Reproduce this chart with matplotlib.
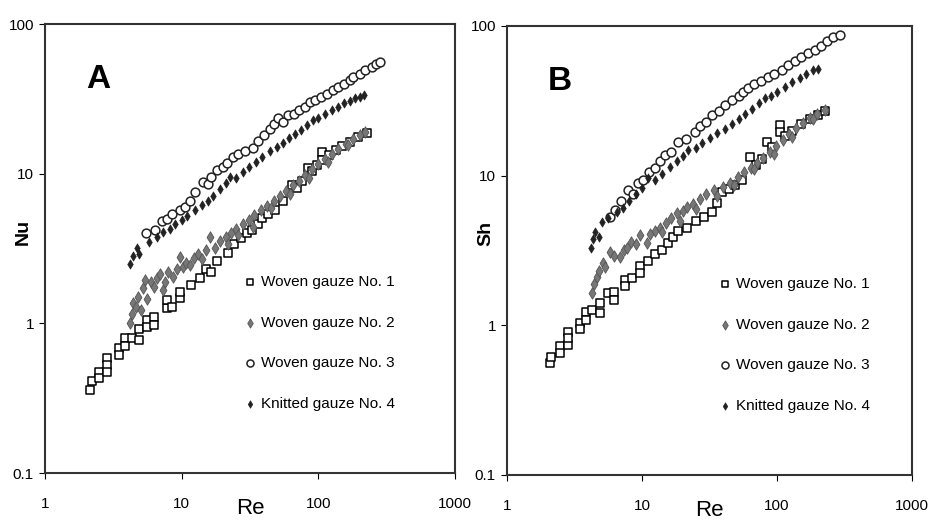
import matplotlib
matplotlib.use('Agg')
import matplotlib.pyplot as plt

plt.rcParams['font.family'] = ['Liberation Sans', 'DejaVu Sans']

labels = ['Woven gauze No. 1', 'Woven gauze No. 2', 'Woven gauze No. 3', 'Knitted gauze No. 4']

# Panel A: Nu vs Re
a1_re = [2.13, 2.2, 2.5, 2.5, 2.85, 2.85, 2.85, 3.5, 3.5, 3.85, 3.85, 4.3, 4.9, 4.9, 5.6, 5.6, 6.3, 6.3,
         7.8, 7.8, 8.5, 9.7, 9.7, 11.7, 13.6, 15, 16.5, 18, 21.8, 24, 27, 30, 32.7, 36, 38.7, 43, 48, 55,
         64, 70, 76, 84, 90, 98, 106, 106, 120, 135, 150, 170, 195, 225]
a1_nu = [0.36, 0.41, 0.47, 0.43, 0.59, 0.53, 0.47, 0.68, 0.61, 0.80, 0.71, 0.80, 0.92, 0.77, 1.05, 0.95, 1.1, 0.97,
         1.27, 1.43, 1.29, 1.47, 1.62, 1.80, 2.0, 2.3, 2.2, 2.6, 2.95, 3.4, 3.7, 4.0, 4.2, 4.6, 5.05, 5.4, 5.7, 6.6,
         8.4, 8.0, 8.9, 10.9, 10.5, 11.4, 13.9, 12.3, 13.3, 14.4, 15.3, 16.4, 17.6, 18.6]

a2_re = [4.2, 4.3, 4.4, 4.6, 4.8, 5.0, 5.2, 5.4, 5.6, 6.0, 6.3, 6.6, 6.9, 7.3, 7.6, 8.0, 8.7, 9.2, 9.7, 10.2,
         10.8, 11.5, 12.3, 13.2, 14, 15, 16, 17.5, 19, 21, 23, 25, 28, 31, 34, 38, 42, 47, 52, 58, 65, 72,
         80, 90, 100, 112, 125, 140, 158, 178, 200, 220,
         22, 26, 33, 45, 62, 85, 118, 165]
a2_nu = [1.0, 1.15, 1.37, 1.28, 1.5, 1.23, 1.73, 1.95, 1.45, 1.9, 1.75, 2.0, 2.15, 1.67, 1.9, 2.2, 2.05, 2.3, 2.77, 2.38,
         2.55, 2.45, 2.75, 2.9, 2.7, 3.1, 3.8, 3.2, 3.55, 3.8, 4.0, 4.3, 4.6, 4.9, 5.3, 5.7, 6.1, 6.6, 7.1, 7.7, 8.4, 9.0,
         9.8, 10.7, 11.6, 12.6, 13.6, 14.7, 15.9, 17.0, 18.0, 19.0,
         3.4, 3.9, 4.4, 5.9, 7.3, 9.4, 12.0, 15.6]

a3_re = [5.5, 6.4, 7.2, 7.8, 8.5, 9.7, 10.5, 11.5, 12.5, 14.3, 15.5, 16.5, 18, 20, 21.5, 23.7, 26, 29, 33, 36,
         40, 44, 47, 50.6, 55, 60, 66, 72, 80, 87, 95, 105, 115, 127, 140, 155, 170, 180, 200, 220, 245, 265, 282]
a3_nu = [4.0, 4.2, 4.8, 5.0, 5.4, 5.7, 6.0, 6.6, 7.5, 8.8, 8.5, 9.5, 10.6, 11.0, 11.8, 12.9, 13.5, 14.2, 14.8, 16.5,
         18, 20, 21.5, 23.5, 22, 24.6, 25, 26.5, 28, 30, 31, 32.5, 34, 36, 38, 40, 42, 44, 46, 49, 52, 54, 55.6]

a4_re = [4.2, 4.4, 4.7, 4.9, 5.8, 6.6, 7.3, 8.2, 9.0, 10, 11, 12.5, 14, 15.5, 17, 19, 21, 22.5, 25, 28, 31, 35,
         39, 44, 49.6, 55, 61, 68, 75, 83, 91, 100, 112, 125, 140, 155, 170, 185, 201, 215]
a4_nu = [2.5, 2.8, 3.2, 2.9, 3.5, 3.8, 4.1, 4.3, 4.6, 4.9, 5.2, 5.7, 6.2, 6.6, 7.1, 7.9, 8.6, 9.5, 9.4, 10.3, 11.1, 12.0,
         13.0, 14.1, 15.0, 16.0, 17.2, 18.4, 19.6, 21.0, 22.8, 23.5, 25, 26.5, 28, 29.5, 30.8, 31.8, 32.5, 33.5]

# Panel B: Sh vs Re
b1_re = [2.08, 2.1, 2.47, 2.47, 2.83, 2.83, 2.83, 3.47, 3.47, 3.84, 3.84, 4.26, 4.88, 4.88, 5.6, 6.2, 6.2, 7.5, 7.5,
         8.4, 9.6, 9.6, 11, 12.5, 14, 15.6, 17, 18.5, 21.6, 25, 29, 33, 36, 39, 44, 49, 55, 63, 70, 77, 84, 92,
         105, 105, 115, 130, 150, 175, 200, 225]
b1_sh = [0.56, 0.61, 0.73, 0.65, 0.90, 0.74, 0.82, 1.03, 0.94, 1.23, 1.09, 1.27, 1.41, 1.21, 1.64, 1.67, 1.47, 2.0, 1.83,
         2.07, 2.5, 2.25, 2.7, 3.0, 3.2, 3.55, 3.9, 4.3, 4.5, 5.0, 5.3, 5.7, 6.6, 7.8, 8.2, 8.7, 9.4, 13.3, 11.8, 12.9, 16.8, 15.5,
         21.8, 19.5, 18.5, 20.0, 22.0, 24.0, 25.5, 27]

b2_re = [4.26, 4.4, 4.6, 4.8, 5.1, 5.3, 5.8, 6.2, 6.9, 7.3, 7.7, 8.3, 9.0, 9.7, 10.9, 11.5, 12.5, 13.6, 15, 16.5,
         18.2, 20, 21.5, 23.9, 27, 30, 34, 40, 45, 51, 57, 64, 71, 79, 88, 98, 110, 123, 138, 155, 175, 198, 227,
         14, 19, 25, 36, 48, 68, 95, 130, 185]
b2_sh = [1.64, 1.9, 2.1, 2.3, 2.6, 2.45, 3.1, 2.9, 2.85, 3.2, 3.3, 3.6, 3.5, 4.0, 3.55, 4.1, 4.3, 4.5, 4.8, 5.2,
         5.6, 5.8, 6.2, 6.5, 7.0, 7.6, 8.0, 8.4, 9.0, 9.8, 10.6, 11.3, 12.1, 13.2, 14.5, 15.8, 17.3, 19.0, 20.8, 22.6, 24.4, 26.0, 27.4,
         4.2, 5.0, 6.0, 7.3, 8.6, 11.0, 14.0, 18.2, 23.8]

b3_re = [5.8, 6.3, 7.0, 7.9, 8.5, 9.3, 10.2, 11.2, 12.5, 13.5, 14.8, 16.5, 18.5, 21, 24.7, 27, 30, 33, 37, 41,
         46, 52, 56, 61, 68, 76, 86, 95, 108, 121, 135, 150, 170, 190, 210, 235, 260, 293]
b3_sh = [5.3, 5.9, 6.8, 8.0, 7.6, 9.0, 9.3, 10.5, 11.3, 12.5, 13.7, 14.5, 16.8, 17.5, 19.5, 21.5, 23, 25.4, 27, 29.5,
         32, 34, 36.5, 38.5, 41, 43, 45.6, 48, 51, 54.8, 58, 62, 66, 69, 74, 79, 84, 87]

b4_re = [4.2, 4.3, 4.5, 4.8, 5.05, 5.6, 6.5, 7.2, 8.0, 9.0, 10, 11, 12.5, 14, 16, 18, 20, 22, 25, 28, 32, 36,
         41, 46, 52, 58, 65, 73, 81.5, 90, 100, 115, 130, 148, 165, 185, 200]
b4_sh = [3.3, 3.8, 4.2, 3.9, 4.9, 5.2, 5.7, 6.1, 6.8, 7.5, 8.3, 9.6, 9.4, 10.3, 11.4, 12.5, 13.5, 14.8, 15.3, 16.5, 17.8, 19.2,
         20.5, 22.0, 24.0, 25.8, 28.0, 30.5, 33, 34, 36, 39, 42, 45, 48, 50.5, 52]

styles = [
    dict(marker='s', s=30, facecolors='white', edgecolors='black', linewidths=1.1),
    dict(marker='d', s=34, facecolors='#777777', edgecolors='#555555', linewidths=0.6),
    dict(marker='o', s=40, facecolors='white', edgecolors='#222222', linewidths=1.1),
    dict(marker='d', s=22, facecolors='#222222', edgecolors='#222222', linewidths=0.5),
]


def draw_panel(ax, series, ylabel, letter, leg_x):
    for (x, y), st, lab in zip(series, styles, labels):
        ax.scatter(x, y, label=lab, zorder=3, **st)
    ax.set_xscale('log')
    ax.set_yscale('log')
    ax.set_xlim(1, 1000)
    ax.set_ylim(0.1, 100)
    ax.set_xticks([1, 10, 100, 1000])
    ax.set_xticklabels(['1', '10', '100', '1000'])
    ax.set_yticks([0.1, 1, 10, 100])
    ax.set_yticklabels(['0.1', '1', '10', '100'])
    ax.minorticks_off()
    ax.tick_params(axis='x', direction='out', length=4, pad=13, labelsize=11)
    ax.tick_params(axis='y', direction='out', length=4, pad=4, labelsize=11)
    for sp in ax.spines.values():
        sp.set_linewidth(1.5)
        sp.set_color('#333333')
    ax.set_xlabel('Re', fontsize=16, va='top')
    ax.xaxis.set_label_coords(0.5, -0.056)
    ax.set_ylabel(ylabel, fontsize=14, fontweight='bold', va='center')
    ax.yaxis.set_label_coords(-0.052, 0.537)
    ax.text(0.1, 0.857, letter, transform=ax.transAxes, fontsize=24, fontweight='bold')
    ax.legend(loc='upper left', bbox_to_anchor=(leg_x, 0.455), frameon=False,
              fontsize=11, labelspacing=1.75, handlelength=0.8, handletextpad=0.3,
              markerscale=0.8, borderaxespad=0)


fig = plt.figure(figsize=(9.3, 5.21), dpi=100)
axA = fig.add_axes([0.0484, 0.0921, 0.4409, 0.8618])
axB = fig.add_axes([0.5452, 0.0883, 0.4355, 0.8618])

draw_panel(axA, [(a1_re, a1_nu), (a2_re, a2_nu), (a3_re, a3_nu), (a4_re, a4_nu)], 'Nu', 'A', 0.47)
draw_panel(axB, [(b1_re, b1_sh), (b2_re, b2_sh), (b3_re, b3_sh), (b4_re, b4_sh)], 'Sh', 'B', 0.509)

fig.savefig('out.png', dpi=100)
plt.close(fig)
